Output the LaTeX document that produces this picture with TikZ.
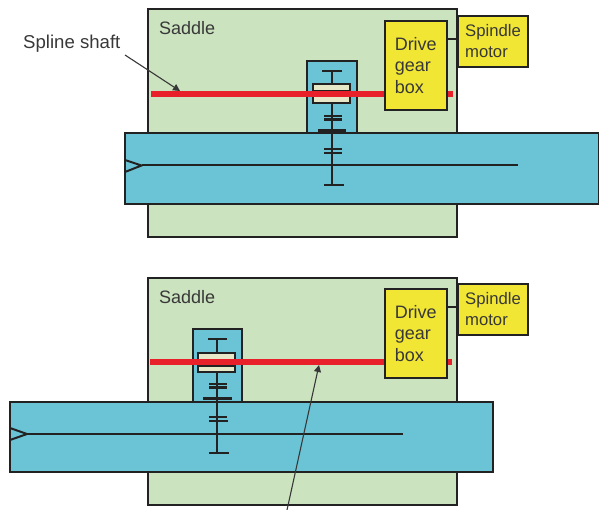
\documentclass[tikz,border=0pt]{standalone}
\usepackage{fontspec}
\setmainfont{Liberation Sans}
\usetikzlibrary{arrows.meta}
\definecolor{sad}{HTML}{CBE3BF}
\definecolor{tbl}{HTML}{6BC3D6}
\definecolor{yel}{HTML}{F2E634}
\definecolor{rd}{HTML}{E8202A}
\definecolor{strip}{HTML}{E6E8C8}
\definecolor{ink}{HTML}{222222}
\definecolor{txt}{HTML}{383838}
\tikzset{
  px/.style={x=1pt,y=-1pt},
  box/.style={draw=ink,line width=2pt,anchor=north west,inner sep=0pt,outer sep=0pt,text=txt},
  saddlebox/.style={box,fill=sad,minimum width=309pt},
  tablebox/.style={box,fill=tbl},
  housing/.style={box,fill=tbl,minimum width=49.5pt,minimum height=73pt},
  gearbox/.style={box,fill=yel,minimum width=61.5pt,minimum height=89pt,align=left,font=\fontsize{18}{21.5}\selectfont},
  motorbox/.style={box,fill=yel,minimum width=70pt,minimum height=51pt,align=left,font=\fontsize{16.7}{21}\selectfont},
  teeth/.style={draw=ink,line width=2.3pt},
  thin/.style={draw=ink,line width=2pt},
  spline/.style={draw=rd,line width=6pt},
  stripbox/.style={box,fill=strip,minimum width=37.5pt,minimum height=6.5pt},
  lead/.style={draw=txt,line width=1.1pt,-{Triangle[length=7pt,width=7pt]}},
  lab/.style={text=txt,inner sep=0pt,anchor=base west},
  sadlab/.style={lab,font=\fontsize{18}{20}\selectfont},
  shaftlab/.style={lab,font=\fontsize{18.6}{20}\selectfont}
}
\begin{document}
\begin{tikzpicture}[px]
\useasboundingbox (0,0) rectangle (599,510);
% ---------- upper view
\node[saddlebox,minimum height=228pt] (s1) at (148,9) {};
\node[sadlab] (s1t) at (159,35) {Saddle};
\node[housing] (h1) at (307,61) {};
\node[tablebox,minimum width=474pt,minimum height=71pt] (t1) at (125,133) {};
\coordinate (t1a) at (125,160); \coordinate (t1b) at (141.5,165.5); \coordinate (t1c) at (125,172);
\coordinate (t1e) at (518,165.5);
\draw[thin] (t1a) -- (t1b) -- (t1c);
\draw[thin] (t1b) -- (t1e);
\coordinate (a1) at (332,71); \coordinate (a2) at (332,185);
\draw[teeth] (a1) -- (a2);
\draw[teeth] (322,71) -- (342,71);
\draw[teeth] (324,116) -- (342,116);
\draw[teeth] (324,119.5) -- (342,119.5);
\draw[teeth] (318,130.5) -- (346,130.5);
\draw[teeth] (324,149) -- (342,149);
\draw[teeth] (324,153) -- (342,153);
\draw[teeth] (324,185) -- (344,185);
\node[stripbox] (g1a) at (312.5,84.5) {};
\node[stripbox] (g1b) at (312.5,96.5) {};
\coordinate (r1a) at (151,94); \coordinate (r1b) at (385,94);
\coordinate (r1c) at (447,94); \coordinate (r1d) at (453,94);
\draw[spline] (r1a) -- (r1b);
\draw[spline] (r1c) -- (r1d);
\node[gearbox] (d1) at (385,21) {Drive\\gear\\box};
\node[motorbox] (m1) at (457.5,16) {\hspace{1pt}Spindle\\\hspace{1pt}motor};
\draw[thin] (447,39) -- (457,39);
\node[shaftlab] (l1) at (23,49) {Spline shaft};
\coordinate (l1s) at (125,55); \coordinate (l1e) at (180,91);
\draw[lead] (l1s) -- (l1e);
% ---------- lower view
\node[saddlebox,minimum height=227pt] (s2) at (148,278) {};
\node[sadlab] (s2t) at (159,304) {Saddle};
\node[housing,minimum height=73pt] (h2) at (192.5,328.5) {};
\node[tablebox,minimum width=483pt,minimum height=70pt] (t2) at (10,401.5) {};
\coordinate (t2a) at (10,428); \coordinate (t2b) at (27,434); \coordinate (t2c) at (10,440);
\coordinate (t2e) at (403,434);
\draw[thin] (t2a) -- (t2b) -- (t2c);
\draw[thin] (t2b) -- (t2e);
\coordinate (b1) at (217,339); \coordinate (b2) at (217,453);
\draw[teeth] (b1) -- (b2);
\draw[teeth] (208,339) -- (227,339);
\draw[teeth] (209,384) -- (227,384);
\draw[teeth] (209,387.5) -- (227,387.5);
\draw[teeth] (203,398.5) -- (232,398.5);
\draw[teeth] (209,417) -- (227,417);
\draw[teeth] (209,421) -- (228,421);
\draw[teeth] (209,453) -- (229,453);
\node[stripbox] (g2a) at (197.5,353) {};
\node[stripbox] (g2b) at (197.5,365.5) {};
\coordinate (r2a) at (150,361.5); \coordinate (r2b) at (385,361.5);
\coordinate (r2c) at (446,361.5); \coordinate (r2d) at (452,361.5);
\draw[spline] (r2a) -- (r2b);
\draw[spline] (r2c) -- (r2d);
\node[gearbox] (d2) at (385,289) {Drive\\gear\\box};
\node[motorbox] (m2) at (457.5,284) {\hspace{1pt}Spindle\\\hspace{1pt}motor};
\draw[thin] (447,307) -- (457,307);
\coordinate (l2s) at (287,510); \coordinate (l2e) at (319,365);
\draw[lead] (l2s) -- (l2e);
\end{tikzpicture}
\end{document}
